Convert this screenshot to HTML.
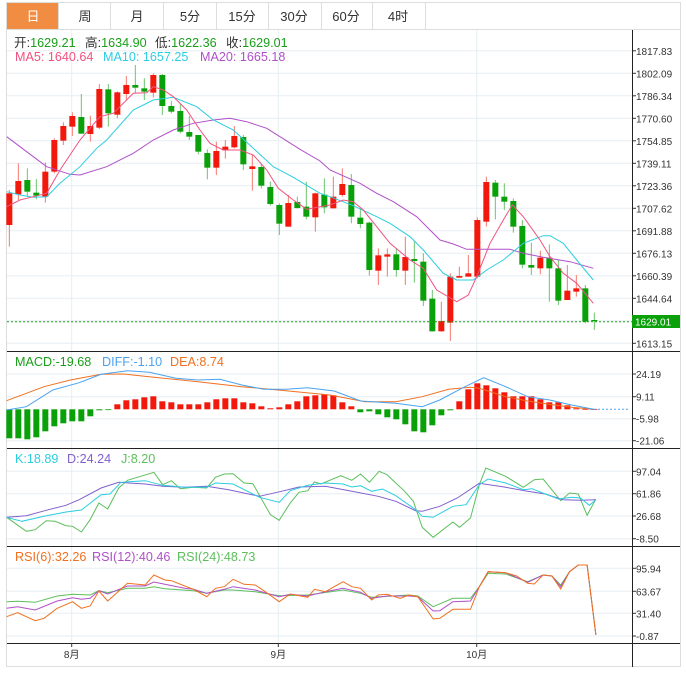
<!DOCTYPE html>
<html><head><meta charset="utf-8">
<style>
body{margin:0;background:#fff;width:686px;height:675px;overflow:hidden;font-family:"Liberation Sans","Noto Sans CJK SC",sans-serif;}
svg{position:absolute;left:0;top:0}
</style></head><body>
<svg id="s" width="686" height="675" xmlns="http://www.w3.org/2000/svg" font-family="Liberation Sans, Noto Sans CJK SC, sans-serif">
<rect x="6.5" y="2.5" width="674" height="664" fill="#fff" stroke="#ddd"/>
<rect x="7" y="3" width="51" height="26" fill="#f18d42"/>
<g stroke="#ddd"><line x1="58.5" y1="3" x2="58.5" y2="29"/><line x1="110.5" y1="3" x2="110.5" y2="29"/><line x1="163.5" y1="3" x2="163.5" y2="29"/><line x1="216.5" y1="3" x2="216.5" y2="29"/><line x1="268.5" y1="3" x2="268.5" y2="29"/><line x1="321.5" y1="3" x2="321.5" y2="29"/><line x1="372.5" y1="3" x2="372.5" y2="29"/><line x1="425.5" y1="3" x2="425.5" y2="29"/><line x1="7" y1="29.5" x2="680" y2="29.5"/></g>
<g font-size="13" text-anchor="middle" fill="#333"><text x="33" y="21" fill="#fff">日</text><text x="85" y="21">周</text><text x="137" y="21">月</text><text x="190" y="21">5分</text><text x="242" y="21">15分</text><text x="294" y="21">30分</text><text x="346" y="21">60分</text><text x="398" y="21">4时</text></g>
<g id="g"></g>
<g font-size="12.6">
<text x="14" y="47" fill="#333">开:<tspan fill="#1a9e1a">1629.21</tspan></text>
<text x="85" y="47" fill="#333">高:<tspan fill="#1a9e1a">1634.90</tspan></text>
<text x="155" y="47" fill="#333">低:<tspan fill="#1a9e1a">1622.36</tspan></text>
<text x="226" y="47" fill="#333">收:<tspan fill="#1a9e1a">1629.01</tspan></text>
<text x="15" y="61" fill="#f0527f">MA5: 1640.64</text>
<text x="103" y="61" fill="#2ccde0">MA10: 1657.25</text>
<text x="200" y="61" fill="#b050c8">MA20: 1665.18</text>
<text x="15" y="366" fill="#1a9e1a">MACD:-19.68</text>
<text x="102" y="366" fill="#4aa3f0">DIFF:-1.10</text>
<text x="170" y="366" fill="#f07020">DEA:8.74</text>
<text x="15" y="463" fill="#2ccde0">K:18.89</text>
<text x="67" y="463" fill="#8060d0">D:24.24</text>
<text x="121" y="463" fill="#5cbf5c">J:8.20</text>
<text x="15" y="561" fill="#f07020">RSI(6):32.26</text>
<text x="92" y="561" fill="#b050c8">RSI(12):40.46</text>
<text x="177" y="561" fill="#5cbf5c">RSI(24):48.73</text></g>
</svg>
<script>
var g=document.getElementById('g'),h='';
function L(x1,y1,x2,y2,c,w,d){h+='<line x1="'+x1+'" y1="'+y1+'" x2="'+x2+'" y2="'+y2+'" stroke="'+c+'" stroke-width="'+(w||1)+'"'+(d?' stroke-dasharray="'+d+'"':'')+'/>';}
function T(x,y,t,c,s,a){h+='<text x="'+x+'" y="'+y+'" fill="'+(c||'#333')+'" font-size="'+(s||10)+'"'+(a?' text-anchor="'+a+'"':'')+'>'+t+'</text>';}
function P(pts,c,fx,fy){h+='<polyline fill="none" stroke="'+c+'" stroke-width="1" points="'+pts.map(function(p){return fx(p[0]).toFixed(1)+','+fy(p[1]).toFixed(1)}).join(' ')+'"/>';}
var GR='#e6eef2';
[71.7,278.3,476.7].forEach(function(x){L(x,30,x,643,GR);});
var lab=['1817.83','1802.09','1786.34','1770.60','1754.85','1739.11','1723.36','1707.62','1691.88','1676.13','1660.39','1644.64','','1613.15'];
for(var i=0;i<14;i++){var y=50.8+22.5*i;L(7,y,632,y,GR);L(632,y,636,y,'#333');if(lab[i])T(636,y+4,lab[i],'#333',10);}
[[374,'24.19'],[396.7,'9.11'],[418.7,'-5.98'],[440.7,'-21.06']].forEach(function(a){L(7,a[0],632,a[0],GR);L(632,a[0],636,a[0],'#333');T(636,a[0]+4,a[1],'#333',10);});
[[471.3,'97.04'],[493.7,'61.86'],[516,'26.68'],[538.7,'-8.50']].forEach(function(a){L(7,a[0],632,a[0],GR);L(632,a[0],636,a[0],'#333');T(636,a[0]+4,a[1],'#333',10);});
[[568.3,'95.94'],[591.3,'63.67'],[613.3,'31.40'],[636,'-0.87']].forEach(function(a){L(7,a[0],632,a[0],GR);L(632,a[0],636,a[0],'#333');T(636,a[0]+4,a[1],'#333',10);});
L(7,351.5,680,351.5,'#222');L(7,448.5,680,448.5,'#222');L(7,546.5,680,546.5,'#222');L(7,643.5,680,643.5,'#222');
L(632.5,30,632.5,667,'#222');
[[71.7,'8月'],[278.3,'9月'],[476.7,'10月']].forEach(function(a){L(a[0],643,a[0],647,'#333');T(a[0],658,a[1],'#333',10,'middle');});
var A=[[28,1,400,495,390,560],[53,1,363,403,310,420],[80,0,360,395,325,410],[107,0,398,407,357,418],[133,1,335,410,307,428],[160,1,240,335,235,340],[187,1,198,242,187,255],[214,1,168,200,157,228],[241,0,171,221,102,221],[268,1,198,222,167,245],[296,1,87,203,72,207],[323,0,88,160,72,200],[350,1,97,164,94,175],[377,1,75,102,48,120],[404,0,75,83,15,100],[431,0,85,95,55,120],[458,1,45,98,40,112],[485,0,45,138,42,165],[512,0,138,155,123,160],[539,0,153,215,130,220],[566,0,216,230,168,240],[593,0,225,275,225,283],[620,0,279,323,268,358],[647,1,273,323,245,345],[674,1,260,271,240,296],[701,1,228,262,198,265],[728,0,231,313,225,330],[755,1,319,327,285,392],[782,0,321,377,310,385],[809,0,381,432,365,437],[836,0,435,491,430,525],[863,1,429,500,405,500],[890,0,426,444,410,446],[917,0,440,470,365,478],[944,1,400,472,398,515]];
var B=[[40,0,404,442,355,460],[67,1,410,445,350,445],[94,1,372,405,325,410],[121,0,375,470,342,490],[148,0,473,492,445,505],[175,0,488,630,485,647],[202,1,586,632,565,675],[229,1,583,590,565,650],[256,0,583,630,565,650],[283,1,591,632,530,675],[310,0,597,603,545,668],[337,0,605,722,580,738],[364,0,716,814,690,815],[391,1,783,814,725,815],[418,1,650,788,640,843],[445,1,648,653,620,653],[472,1,640,650,585,650],[499,1,480,650,472,655],[526,1,366,485,350,500],[553,0,368,410,360,478],[580,0,410,425,370,450],[607,0,423,500,415,518],[634,0,498,614,480,625],[661,0,615,623,548,645],[688,1,593,625,572,643],[715,0,593,625,553,725],[742,0,625,722,600,735],[769,1,692,720,615,720],[796,1,685,695,645,710],[823,0,685,785,675,790],[850,0,780,783,758,810]];
var RED='#f2190c',GRN='#0aa00a';
function cand(x,c,bt,bb,wt,wb){var col=c?RED:GRN;L(x,wt,x,wb,c?'#f57a70':'#6cc46c');h+='<rect x="'+(x-3)+'" y="'+bt+'" width="6" height="'+Math.max(bb-bt,1.2)+'" fill="'+col+'"/>';}
A.forEach(function(a,i){var x=9.33+9*i;cand(x,a[1],60+a[2]/3,60+a[3]/3,60+a[4]/3,60+a[5]/3);});
B.forEach(function(a,i){var x=9.33+9*(35+i);cand(x,a[1],60+a[2]/3,60+a[3]/3,60+a[4]/3,60+a[5]/3);});
L(7,321.7,632,321.7,'#1a9e1a',1,'2,2');
h+='<rect x="632" y="315" width="48" height="13" fill="#0aa00a"/>';T(635,325.5,'1629.01','#fff',10);
var f4x=function(x){return x/3},f5x=function(x){return 310+x/3},fy=function(y){return 60+y/3};
function MA(a,b,c){var p=a.map(function(q){return [f4x(q[0]),fy(q[1])]}).concat(b.map(function(q){return [f5x(q[0]),fy(q[1])]}));P(p,c,function(x){return x},function(y){return y});}
MA([[20,230],[100,290],[140,320],[210,343],[240,345],[320,320],[400,280],[460,240],[520,210],[580,190],[640,180],[690,175],[740,185],[800,205],[840,230],[900,268],[960,303]],[[60,330],[150,370],[200,400],[250,425],[320,470],[390,540],[430,552],[470,568],[600,568],[640,580],[700,592],[780,605],[850,625]],'#b050c8');
MA([[20,395],[60,405],[100,412],[140,410],[180,370],[240,320],[290,265],[320,240],[400,150],[460,120],[520,112],[590,140],[640,180],[700,210],[760,265],[820,320],[880,352],[960,400]],[[60,410],[130,437],[200,470],[240,490],[300,530],[340,570],[400,640],[440,660],[490,660],[530,630],[580,600],[640,550],[700,527],[720,527],[760,550],[800,600],[850,660]],'#2ccde0');
MA([[20,440],[60,420],[100,410],[140,400],[180,330],[240,240],[300,170],[340,160],[400,100],[440,98],[460,80],[490,90],[520,110],[560,150],[600,210],[630,250],[670,270],[720,270],[760,285],[800,330],[835,385],[880,420],[920,448],[960,440]],[[60,435],[100,420],[130,425],[160,450],[200,500],[240,550],[300,600],[340,625],[380,690],[440,725],[475,705],[500,650],[540,550],[580,480],[607,435],[640,470],[690,540],[720,590],[760,640],[800,670],[850,730]],'#f0527f');
var Z=409.3,M=[-29,-29,-30,-28,-22,-17,-14,-12,-12,-7,-1,-0.5,5,9,10,12,13,8,7,5,5,5,7,10,11,11,7,6,3,1,2,5,8,13,14,15,14,7,3,-3,-2,-5,-8,-10,-15,-22,-23,-16,-6,-1,8,20,26,24,21,17,13,13,13,10,7,7,4,1,0.4,0.2];
M.forEach(function(v,i){var x=9.33+9*i-3;h+='<rect x="'+x+'" y="'+(v>0?Z-v:Z)+'" width="6" height="'+Math.max(Math.abs(v),0.8)+'" fill="'+(v>0?RED:GRN)+'"/>';});
L(590,Z,630,Z,'#4aa3f0',1,'2,2');
var fw=function(x){return x/2.274};
P([[15,182],[100,140],[160,120],[230,103],[280,102],[350,112],[450,125],[550,140],[650,152],[750,165],[830,185],[900,185],[960,170],[1020,148],[1070,142],[1090,145],[1150,170],[1200,183],[1260,195],[1300,202],[1350,208]],'#f07020',fw,function(y){return 340+y/3});
P([[15,210],[60,200],[120,150],[180,128],[230,103],[290,92],[340,97],[400,115],[450,120],[500,118],[550,135],[600,148],[650,148],[700,143],[760,153],[820,183],[900,190],[960,200],[1000,180],[1050,145],[1100,113],[1150,140],[1200,170],[1250,180],[1300,195],[1350,208]],'#4aa3f0',fw,function(y){return 340+y/3});
var fk=function(y){return 448+y/3};
P([[15,208],[60,250],[80,245],[105,218],[125,220],[150,233],[165,235],[185,252],[205,215],[225,165],[245,183],[270,120],[290,97],[350,73],[370,110],[390,98],[410,122],[440,118],[470,120],[490,88],[510,78],[530,77],[555,105],[575,107],[615,200],[635,217],[660,165],[680,133],[700,128],[715,102],[730,108],[775,83],[800,97],[820,78],[840,103],[862,70],[880,80],[920,130],[940,160],[960,238],[985,268],[1030,222],[1045,238],[1070,210],[1090,110],[1105,60],[1150,85],[1190,118],[1215,95],[1235,93],[1275,158],[1295,135],[1315,138],[1335,202],[1355,153]],'#5cbf5c',fw,fk);
P([[15,208],[60,203],[110,185],[150,172],[180,155],[230,120],[270,103],[330,108],[370,115],[420,118],[470,115],[520,125],[590,145],[640,130],[680,117],[740,115],[800,130],[860,145],[900,160],[945,188],[960,190],[1000,175],[1040,150],[1090,106],[1150,118],[1200,130],[1240,138],[1280,155],[1320,157],[1355,155]],'#8060d0',fw,fk);
P([[15,208],[50,220],[100,205],[150,192],[185,186],[230,140],[250,138],[275,103],[330,98],[370,112],[420,118],[470,118],[490,105],[530,108],[560,128],[590,148],[635,163],[660,128],[700,112],[740,105],[780,108],[800,117],[820,113],[845,130],[870,123],[900,143],[945,185],[960,205],[985,208],[1030,175],[1060,170],[1090,110],[1110,93],[1150,105],[1190,125],[1210,122],[1240,138],[1270,153],[1300,148],[1320,150],[1340,172],[1355,155]],'#2ccde0',fw,fk);
var fr=function(y){return 540+y/3};
P([[15,185],[40,184],[80,187],[130,168],[165,163],[205,165],[225,152],[245,158],[290,145],[330,145],[350,140],[375,146],[440,152],[470,160],[510,150],[530,150],[580,155],[635,167],[700,165],[780,150],[820,160],[845,172],[930,165],[950,168],[985,200],[1030,175],[1070,175],[1090,140],[1110,100],[1150,102],[1200,125],[1235,105],[1255,108],[1275,135],[1295,95],[1315,75],[1335,75],[1355,285]],'#5cbf5c',fw,fr);
P([[15,205],[40,200],[80,210],[130,183],[165,173],[185,178],[205,175],[225,152],[245,162],[290,138],[330,138],[350,126],[375,133],[420,145],[440,148],[470,160],[510,148],[530,140],[580,150],[635,170],[660,163],[700,168],[740,155],[780,145],[820,157],[845,175],[880,168],[930,168],[950,170],[985,213],[1000,212],[1030,185],[1070,183],[1090,140],[1110,95],[1150,98],[1200,127],[1235,105],[1255,108],[1275,140],[1295,95],[1315,75],[1335,75],[1355,285]],'#b050c8',fw,fr);
P([[15,230],[40,218],[80,242],[100,235],[130,205],[165,185],[185,205],[205,198],[225,153],[245,183],[290,130],[330,135],[350,105],[375,120],[390,122],[420,138],[440,148],[470,170],[490,145],[510,140],[530,118],[555,133],[580,135],[600,152],[635,185],[660,162],[700,172],[715,148],[740,155],[780,125],[800,140],[820,145],[845,180],[860,165],[880,163],[910,175],[930,165],[950,170],[985,237],[1000,235],[1030,208],[1070,208],[1090,140],[1110,95],[1150,98],[1175,108],[1200,130],[1215,132],[1235,105],[1255,108],[1275,147],[1295,95],[1315,75],[1335,75],[1355,285]],'#f07020',fw,fr);
g.innerHTML=h;
</script>
</body></html>
